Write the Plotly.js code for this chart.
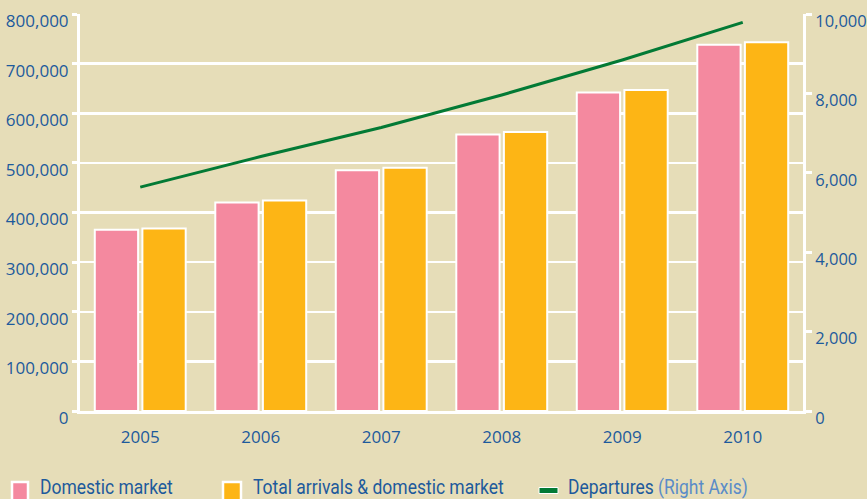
<!DOCTYPE html>
<html>
<head>
<meta charset="utf-8">
<script src="https://cdn.plot.ly/plotly-3.0.1.min.js"></script>
<style>
html,body{margin:0;padding:0;background:#e6ddb8;}
#chart{width:867px;height:499px;}
</style>
</head>
<body>
<div id="chart"></div>
<script>
const years = ['2005','2006','2007','2008','2009','2010'];
const domesticMarket = [365000, 420000, 485000, 557000, 642000, 738000];
const totalArrivals = [368000, 424000, 490000, 562000, 647000, 743000];
const departures = [5640, 6410, 7140, 7960, 8840, 9790];

const leftTicks = [0,100000,200000,300000,400000,500000,600000,700000,800000];
const rightTicks = [0,2000,4000,6000,8000,10000];

const seriesNames = ['Domestic market', 'Total arrivals & domestic market', 'Departures'];
const rightAxisNote = '(Right Axis)';

const textBlue = '#1d5a9c';
const noteBlue = '#5a8cc8';
const bg = '#e6ddb8';
const pink = '#f4899f';
const orange = '#fdb515';
const green = '#037a35';

const traces = [
  {
    type: 'bar', x: years, y: domesticMarket, name: seriesNames[0],
    marker: {color: pink, line: {color: '#ffffff', width: 2}},
    hoverinfo: 'skip'
  },
  {
    type: 'bar', x: years, y: totalArrivals, name: seriesNames[1],
    marker: {color: orange, line: {color: '#ffffff', width: 2}},
    hoverinfo: 'skip'
  },
  {
    type: 'scatter', mode: 'lines', x: years, y: departures, yaxis: 'y2',
    name: seriesNames[2],
    line: {color: green, width: 3},
    hoverinfo: 'skip'
  }
];

// legend drawn as swatches + labels below the plot (pixel offsets from plot's bottom-left corner)
function swatch(x0, x1, y0, y1, fill, lineW) {
  return {
    type: 'rect', xref: 'paper', yref: 'paper', xsizemode: 'pixel', ysizemode: 'pixel',
    xanchor: 0, yanchor: 0, x0: x0, x1: x1, y0: y0, y1: y1,
    fillcolor: fill, line: {color: '#ffffff', width: lineW}, layer: 'above'
  };
}
function label(text, xshift) {
  return {
    xref: 'paper', yref: 'paper', x: 0, y: 0, xshift: xshift, yshift: -76,
    xanchor: 'left', yanchor: 'middle', align: 'left', showarrow: false,
    text: text, font: {family: 'Roboto, sans-serif', size: 19.5, color: textBlue}
  };
}

const legendWidths = [133, 251, 180];

const layout = {
  width: 867, height: 499,
  paper_bgcolor: bg, plot_bgcolor: bg,
  margin: {l: 80, r: 64, t: 14, b: 88},
  barmode: 'group', bargap: 0.21, bargroupgap: 0.09,
  font: {family: 'Open Sans, sans-serif', size: 17, color: textBlue},
  showlegend: false,
  xaxis: {
    type: 'category', showgrid: false, zeroline: false,
    showline: true, linecolor: '#ffffff', linewidth: 3,
    ticks: '', tickfont: {size: 17, color: textBlue}, ticklabelstandoff: 9
  },
  yaxis: {
    range: [0, 800000], tickvals: leftTicks, tickformat: ',d',
    showgrid: true, gridcolor: '#ffffff', gridwidth: 2.5,
    zeroline: false, showline: true, linecolor: '#ffffff', linewidth: 3,
    ticks: 'outside', ticklen: 5, tickwidth: 3, tickcolor: '#ffffff',
    tickfont: {size: 17, color: textBlue}, ticklabelstandoff: 0, ticklabelshift: 7
  },
  yaxis2: {
    overlaying: 'y', side: 'right', range: [0, 10000], tickvals: rightTicks, tickformat: ',d',
    showgrid: false, zeroline: false, showline: true, linecolor: '#ffffff', linewidth: 3,
    ticks: 'outside', ticklen: 6, tickwidth: 3, tickcolor: '#ffffff',
    tickfont: {size: 16.5, color: textBlue}, ticklabelstandoff: 0, ticklabelshift: 7
  },
  shapes: [
    swatch(-68, -52, -71, -92, pink, 2.5),
    swatch(143, 161, -71, -92, orange, 2.5),
    swatch(459, 478, -76.5, -82.5, green, 1)
  ],
  annotations: [
    label(seriesNames[0], -42),
    label(seriesNames[1].replace('&', '&amp;'), 171),
    label(seriesNames[2] + ' <span style="color:' + noteBlue + '">' + rightAxisNote + '</span>', 486)
  ]
};

Plotly.newPlot('chart', traces, layout, {displayModeBar: false, staticPlot: true}).then(function () {
  // fit legend labels to the reference widths (reference uses a slightly condensed typeface)
  const texts = document.querySelectorAll('.annotation-text');
  texts.forEach(function (t, i) {
    const w = legendWidths[i];
    const L = t.getComputedTextLength();
    if (w && L > 0) {
      const s = w / L;
      const x = parseFloat(t.getAttribute('x')) || 0;
      const prev = t.getAttribute('transform') || '';
      t.setAttribute('transform', prev + ' translate(' + (x * (1 - s)) + ',0) scale(' + s + ',1)');
    }
  });
  document.querySelectorAll('.annotation .bg').forEach(function (r) {
    r.setAttribute('width', 0);
  });
});
</script>
</body>
</html>
